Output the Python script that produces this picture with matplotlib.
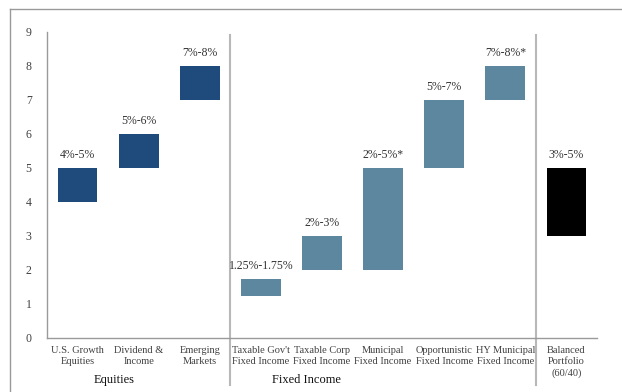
import matplotlib
matplotlib.use("Agg")
import matplotlib.pyplot as plt
import matplotlib.transforms as mtransforms
from matplotlib.lines import Line2D

# Rangos de rentabilidad esperada por estrategia
categorias = ['U.S. Growth\nEquities', 'Dividend &\nIncome', 'Emerging\nMarkets',
              "Taxable Gov't\nFixed Income", 'Taxable Corp\nFixed Income',
              'Municipal\nFixed Income', 'Opportunistic\nFixed Income',
              'HY Municipal\nFixed Income', 'Balanced\nPortfolio\n(60/40)']
minimos = [4, 5, 7, 1.25, 2, 2, 5, 7, 3]
maximos = [5, 6, 8, 1.75, 3, 5, 7, 8, 5]
etiquetas = ['4%-5%', '5%-6%', '7%-8%', '1.25%-1.75%', '2%-3%', '2%-5%*',
             '5%-7%', '7%-8%*', '3%-5%']
grupos = ['eq', 'eq', 'eq', 'fi', 'fi', 'fi', 'fi', 'fi', 'bal']
grupo_titulos = ['Equities', 'Fixed Income']
grupo_centros = [0.6, 3.75]
separadores = [2.5, 7.5]

colores = {'eq': '#1f4a7c', 'fi': '#5d879f', 'bal': '#000000'}

plt.rcParams['font.family'] = ['Liberation Serif', 'DejaVu Serif']

fig = plt.figure(figsize=(6.22, 3.92), dpi=100)
ax = fig.add_axes([47 / 622, 54 / 392, 550 / 622, 306 / 392])

x = list(range(len(categorias)))
alturas = [hi - lo for lo, hi in zip(minimos, maximos)]
bars = ax.bar(x, alturas, bottom=minimos, width=0.65,
              color=[colores[g] for g in grupos])

for i, b in enumerate(bars):
    ax.annotate(etiquetas[i], (b.get_x() + b.get_width() / 2, maximos[i]),
                xytext=(0, 5), textcoords='offset points', ha='center',
                va='bottom', fontsize=8.5, color='#333333')

ax.set_xlim(-0.5, 8.5)
ax.set_ylim(0, 9)
ax.set_yticks(range(0, 10))
ax.set_xticks(x)
ax.set_xticklabels(categorias, fontsize=7.5, color='#404040', linespacing=1.25)
ax.tick_params(axis='both', length=0)
ax.tick_params(axis='x', pad=6)
ax.tick_params(axis='y', pad=11, labelsize=8.5, labelcolor='#404040')

for s in ['top', 'right']:
    ax.spines[s].set_visible(False)
for s in ['left', 'bottom']:
    ax.spines[s].set_color('#9a9a9a')
    ax.spines[s].set_linewidth(1)

# Líneas separadoras entre grupos
trans = mtransforms.blended_transform_factory(ax.transData, fig.transFigure)
for sx in separadores:
    ax.add_line(Line2D([sx, sx], [1 - 385 / 392, 1 - 35 / 392], transform=trans,
                       color='#b8b8b8', lw=1.5, clip_on=False))

for t, c in zip(grupo_titulos, grupo_centros):
    fig.text(c, 1 - 380 / 392, t, transform=trans, ha='center', va='center',
             fontsize=9, color='#111111')

# Marco exterior de la imagen
fig.add_artist(Line2D([10 / 622, 10 / 622], [0, 1 - 9 / 392],
                      transform=fig.transFigure, color='#9a9a9a', lw=1))
fig.add_artist(Line2D([10 / 622, 1], [1 - 9 / 392, 1 - 9 / 392],
                      transform=fig.transFigure, color='#9a9a9a', lw=1))

fig.savefig('out.png', dpi=100)
